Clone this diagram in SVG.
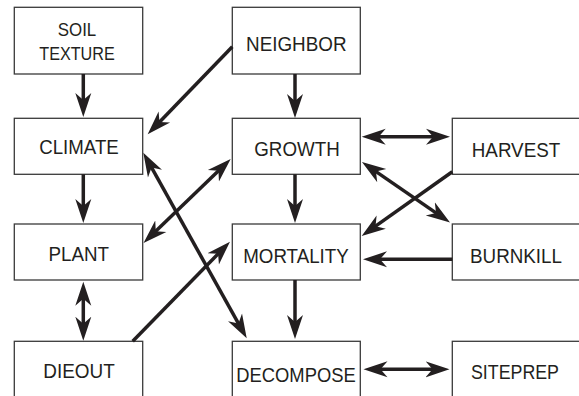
<svg xmlns="http://www.w3.org/2000/svg" width="579" height="396" viewBox="0 0 579 396">
<style>
.box{fill:#fff;stroke:#3a3a3a;stroke-width:1.3}
.lbl{font-family:"Liberation Sans",Arial,sans-serif;font-size:21px;fill:#231f20;text-anchor:middle}
.small{font-size:19px}
.c{stroke:#231f20;stroke-width:3.5;fill:none}
.one{marker-end:url(#ah)}
.two{marker-start:url(#ah);marker-end:url(#ah)}
</style>
<defs>
<marker id="ah" markerUnits="userSpaceOnUse" markerWidth="30" markerHeight="20" viewBox="0 -10 30 20" refX="10" refY="0" orient="auto-start-reverse">
<path d="M0,-8 L24,0 L0,8 L7,0 Z" fill="#231f20"/>
</marker>
</defs>
<rect width="579" height="396" fill="#fff"/>
<g id="soil"><rect class="box" x="14.3" y="7.3" width="128.4" height="66.7"/><text class="lbl small" x="77" y="35.7" textLength="38.5" lengthAdjust="spacingAndGlyphs">SOIL</text><text class="lbl small" x="77" y="60" textLength="75.5" lengthAdjust="spacingAndGlyphs">TEXTURE</text></g>
<g id="neighbor"><rect class="box" x="232.3" y="7.3" width="128" height="66.7"/><text class="lbl" x="296.3" y="50.7" textLength="100.5" lengthAdjust="spacingAndGlyphs">NEIGHBOR</text></g>
<g id="climate"><rect class="box" x="14.3" y="118.3" width="128.4" height="56"/><text class="lbl" x="79" y="154" textLength="79.5" lengthAdjust="spacingAndGlyphs">CLIMATE</text></g>
<g id="growth"><rect class="box" x="232.3" y="118.3" width="128" height="56"/><text class="lbl" x="297" y="156" textLength="85.5" lengthAdjust="spacingAndGlyphs">GROWTH</text></g>
<g id="harvest"><rect class="box" x="452.3" y="118.3" width="128" height="56"/><text class="lbl" x="516" y="156.5" textLength="88.5" lengthAdjust="spacingAndGlyphs">HARVEST</text></g>
<g id="plant"><rect class="box" x="14.3" y="224" width="128.4" height="56"/><text class="lbl" x="78.7" y="260.5" textLength="60.5" lengthAdjust="spacingAndGlyphs">PLANT</text></g>
<g id="mortality"><rect class="box" x="232.3" y="224" width="128" height="56"/><text class="lbl" x="296" y="262.5" textLength="105.5" lengthAdjust="spacingAndGlyphs">MORTALITY</text></g>
<g id="burnkill"><rect class="box" x="452.3" y="224" width="128" height="56"/><text class="lbl" x="516" y="262.5" textLength="92" lengthAdjust="spacingAndGlyphs">BURNKILL</text></g>
<g id="dieout"><rect class="box" x="14.3" y="341.3" width="128.4" height="60"/><text class="lbl" x="79" y="378" textLength="71.5" lengthAdjust="spacingAndGlyphs">DIEOUT</text></g>
<g id="decompose"><rect class="box" x="232.3" y="341.3" width="128" height="60"/><text class="lbl" x="296" y="382" textLength="119.5" lengthAdjust="spacingAndGlyphs">DECOMPOSE</text></g>
<g id="siteprep"><rect class="box" x="452.3" y="341.3" width="128" height="60"/><text class="lbl" x="515" y="378.5" textLength="88" lengthAdjust="spacingAndGlyphs">SITEPREP</text></g>
<g id="connectors">
<line class="c one" x1="83.3" y1="74" x2="83.3" y2="103"/>
<line class="c one" x1="232.3" y1="46.7" x2="157.4" y2="124.2"/>
<line class="c one" x1="295" y1="74" x2="295" y2="104"/>
<line class="c one" x1="83.3" y1="174.3" x2="83.3" y2="209"/>
<line class="c two" x1="375.7" y1="136.7" x2="436" y2="136.7"/>
<line class="c one" x1="452.3" y1="171.7" x2="373.1" y2="227.9"/>
<line class="c two" x1="373.5" y1="169.9" x2="438.5" y2="214.6"/>
<line class="c one" x1="452.3" y1="259.3" x2="377" y2="259.3"/>
<line class="c one" x1="295" y1="174.3" x2="295" y2="209"/>
<line class="c one" x1="295" y1="280" x2="295" y2="325"/>
<line class="c two" x1="377.5" y1="369.3" x2="435.5" y2="369.3"/>
<line class="c two" x1="83.3" y1="295.7" x2="83.3" y2="326.7"/>
<line class="c one" x1="132.7" y1="341.3" x2="220.2" y2="251.7"/>
<line class="c two" x1="153.6" y1="233.3" x2="220.6" y2="168.7"/>
<line class="c two" x1="150.1" y1="164.9" x2="239.9" y2="326.1"/>
</g>
</svg>
